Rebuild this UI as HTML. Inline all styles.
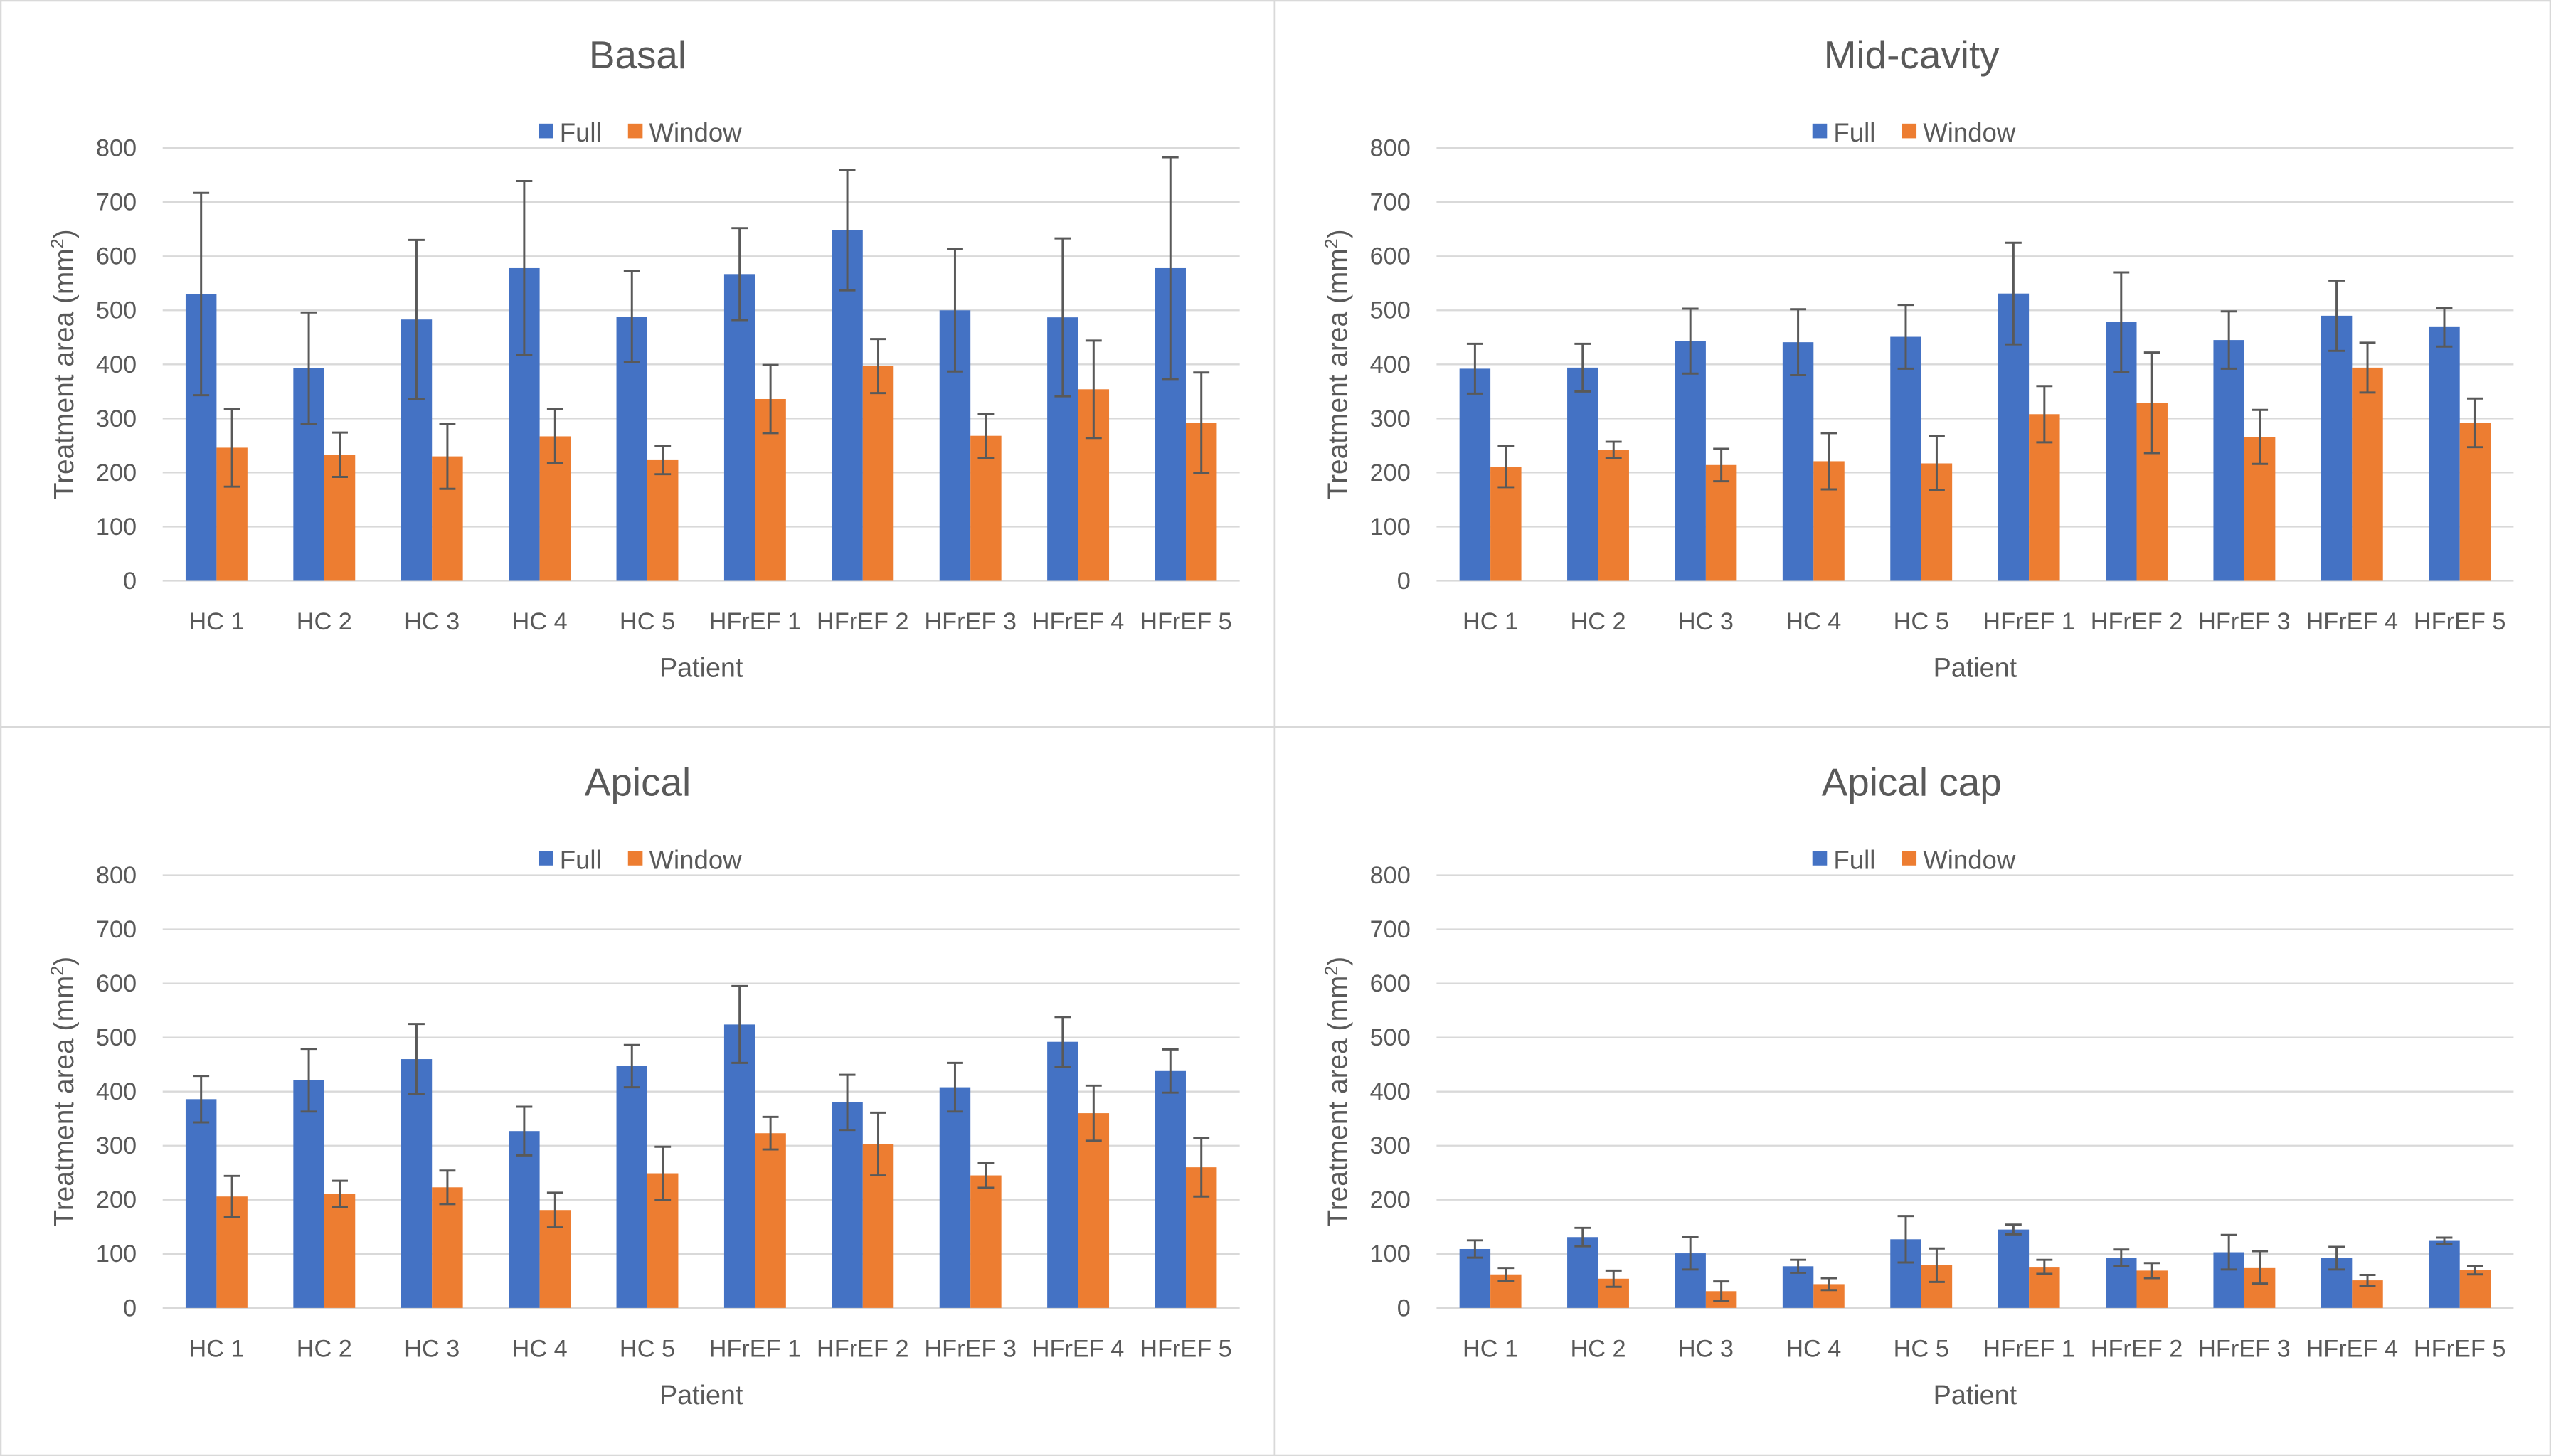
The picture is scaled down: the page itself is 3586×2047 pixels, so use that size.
<!DOCTYPE html>
<html><head><meta charset="utf-8"><style>
html,body{margin:0;padding:0;background:#fff;}
svg{display:block;font-family:"Liberation Sans",sans-serif;}
</style></head><body>
<svg id="c" width="3586" height="2047" viewBox="0 0 1568 895" preserveAspectRatio="none" xmlns="http://www.w3.org/2000/svg"></svg>
<script>
const categories=["HC 1","HC 2","HC 3","HC 4","HC 5","HFrEF 1","HFrEF 2","HFrEF 3","HFrEF 4","HFrEF 5"];
const yTicks=[0,100,200,300,400,500,600,700,800];
const panelTitles=["Basal","Mid-cavity","Apical","Apical cap"];
const basalFull=[530,393,483,578,488,567,648,500,487,578];
const basalFullErr=[187,103,147,161,84,85,111,113,146,205];
const basalWindow=[246,233,230,267,223,336,397,268,354,292];
const basalWindowErr=[72,41,60,50,26,63,50,41,90,93];
const midFull=[392,394,443,441,451,531,478,445,490,469];
const midFullErr=[46,44,60,61,59,94,92,53,65,36];
const midWindow=[211,242,214,221,217,308,329,266,394,292];
const midWindowErr=[38,15,30,52,50,52,93,50,46,45];
const apicalFull=[386,421,460,327,447,524,380,408,492,438];
const apicalFullErr=[43,58,65,45,39,71,51,45,46,40];
const apicalWindow=[206,211,223,181,249,323,303,245,360,260];
const apicalWindowErr=[38,24,31,32,49,30,58,23,51,54];
const capFull=[109,131,101,77,127,145,93,103,92,124];
const capFullErr=[16,17,30,12,43,9,15,32,21,6];
const capWindow=[62,54,31,44,79,76,69,75,51,70];
const capWindowErr=[12,15,18,11,31,13,14,30,10,8];

const full=[basalFull,midFull,apicalFull,capFull];
const fullErr=[basalFullErr,midFullErr,apicalFullErr,capFullErr];
const win=[basalWindow,midWindow,apicalWindow,capWindow];
const winErr=[basalWindowErr,midWindowErr,apicalWindowErr,capWindowErr];

const NS="http://www.w3.org/2000/svg";
const svg=document.getElementById('c');
function mk(tag,attrs,parent,text){const e=document.createElementNS(NS,tag);for(const k in attrs)e.setAttribute(k,attrs[k]);if(text!==undefined)e.textContent=text;(parent||svg).appendChild(e);return e;}

let b=mk('rect',{x:0.5,y:0.5,width:1567,height:894,fill:'none',stroke:'#d9d9d9','stroke-width':1});


let l1=mk('line',{x1:783.5,y1:0,x2:783.5,y2:895,stroke:'#d9d9d9','stroke-width':1.2});


let l2=mk('line',{x1:0,y1:447,x2:1568,y2:447,stroke:'#d9d9d9','stroke-width':1.2});



const panels=[{ox:0,oy:0},{ox:783,oy:0},{ox:0,oy:447},{ox:783,oy:447}];
panels.forEach((p,pi)=>{
  const g=mk('g',{});
  
  
  const x0=p.ox+100,x1=p.ox+762,yb=p.oy+357,yt=p.oy+91;
  const yS=v=>yb-(v/800)*(yb-yt);
  const cw=(x1-x0)/categories.length;
  const xC=i=>x0+cw*(i+0.5);
  const t=mk('text',{x:p.ox+392,y:p.oy+42,'font-size':24,fill:'#595959','text-anchor':'middle'},g,panelTitles[pi]);
  
  
  const lg=mk('g',{},g);
  
  
  mk('rect',{x:p.ox+331,y:p.oy+76,width:9,height:9,fill:'#4472c4'},lg);
  mk('text',{x:p.ox+344,y:p.oy+87,'font-size':16,fill:'#595959'},lg,'Full');
  mk('rect',{x:p.ox+386,y:p.oy+76,width:9,height:9,fill:'#ed7d31'},lg);
  mk('text',{x:p.ox+399,y:p.oy+87,'font-size':16,fill:'#595959'},lg,'Window');
  yTicks.forEach(v=>{
    const gl=mk('line',{x1:x0,x2:x1,y1:yS(v),y2:yS(v),stroke:'#d9d9d9','stroke-width':1},g);
    
    
    const tl=mk('text',{x:x0-16,y:yS(v)+5,'font-size':15,fill:'#595959','text-anchor':'end'},g,String(v));
    
    
  });
  const yt2=mk('text',{transform:`translate(${p.ox+45},${(yb+yt)/2}) rotate(-90)`,'font-size':17,fill:'#595959','text-anchor':'middle'},g);
  
  
  yt2.appendChild(document.createTextNode('Treatment area (mm'));
  mk('tspan',{'font-size':11,dy:-6},yt2,'2');
  mk('tspan',{dy:6},yt2,')');
  const xt=mk('text',{x:(x0+x1)/2,y:p.oy+416,'font-size':16.5,fill:'#595959','text-anchor':'middle'},g,'Patient');
  
  
  const bw=19;
  categories.forEach((c,i)=>{
    const cl=mk('text',{x:xC(i),y:p.oy+387,'font-size':15,fill:'#595959','text-anchor':'middle'},g,c);
    
    
    [[full[pi][i],fullErr[pi][i],'#4472c4',xC(i)-bw,'full'],[win[pi][i],winErr[pi][i],'#ed7d31',xC(i),'window']].forEach(s=>{
      const r=mk('rect',{x:s[3],y:yS(s[0]),width:bw,height:yb-yS(s[0]),fill:s[2]},g);
      
      
      const cx=s[3]+bw/2,hi=yS(s[0]+s[1]),lo=yS(s[0]-s[1]);
      const e=mk('path',{d:`M${cx},${hi}V${lo}M${cx-5},${hi}H${cx+5}M${cx-5},${lo}H${cx+5}`,stroke:'#595959','stroke-width':1.3,fill:'none'},g);
      
      
    });
  });
});
</script>
</body></html>
